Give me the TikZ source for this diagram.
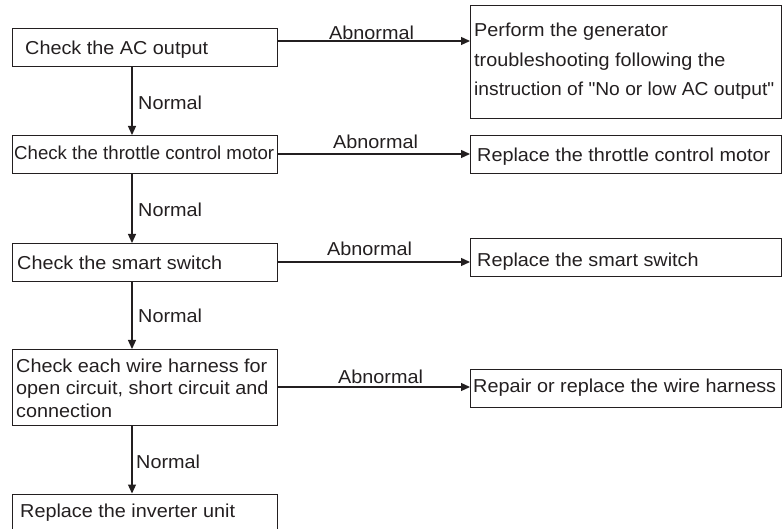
\documentclass[tikz,border=0pt]{standalone}
\usepackage{fontspec}
\usepackage{graphicx}
\newfontfamily\diafont{Liberation Sans}[FakeStretch=1.06]
\usetikzlibrary{arrows.meta}
\definecolor{ink}{HTML}{231F20}
\begin{document}
\begin{tikzpicture}[x=1pt,y=-1pt,
  box/.style={draw=ink,line width=1.3pt,rectangle,inner sep=0pt,anchor=north west},
  txt/.style={inner sep=0pt,anchor=base west,text=ink,font=\diafont\fontsize{18.7}{22}\selectfont},
  arr/.style={draw=ink,line width=1.3pt,-{Triangle[length=9pt,width=8pt]}}]
\clip (0,0) rectangle (782,529);
% left column boxes
\node[box,minimum width=265pt,minimum height=38pt] (b1) at (12,28) {};
\node[box,minimum width=265pt,minimum height=38pt] (b2) at (12,135) {};
\node[box,minimum width=265pt,minimum height=38pt] (b3) at (12,243) {};
\node[box,minimum width=265pt,minimum height=76pt] (b4) at (12,349) {};
\node[box,minimum width=265pt,minimum height=50pt] (b5) at (12,493.5) {};
% right column boxes
\node[box,minimum width=311pt,minimum height=113pt] (r1) at (470,5) {};
\node[box,minimum width=311pt,minimum height=38pt] (r2) at (470,135) {};
\node[box,minimum width=311pt,minimum height=38pt] (r3) at (470,238) {};
\node[box,minimum width=311pt,minimum height=38pt] (r4) at (470,369) {};
% texts
\node[txt] (t1) at (25,54.5) {Check the AC output};
\node[txt] (t2) at (14,160) {\scalebox{0.94}[1]{Check the throttle control motor}};
\node[txt] (t3) at (17,270) {Check the smart switch};
\node[txt] (t4a) at (16,372) {Check each wire harness for};
\node[txt] (t4b) at (16,395) {open circuit, short circuit and};
\node[txt] (t4c) at (16,417) {connection};
\node[txt] (t5) at (20,517) {Replace the inverter unit};
\node[txt] (s1a) at (474,37) {Perform the generator};
\node[txt] (s1b) at (474,67) {troubleshooting following the};
\node[txt] (s1c) at (474,96) {\scalebox{0.97}[1]{instruction of "No or low AC output"}};
\node[txt] (s2) at (477,162) {Replace the throttle control motor};
\node[txt] (s3) at (477,267) {Replace the smart switch};
\node[txt] (s4) at (473,392) {Repair or replace the wire harness};
% labels
\node[txt] (n1) at (138,110) {Normal};
\node[txt] (n2) at (138,217) {Normal};
\node[txt] (n3) at (138,323) {Normal};
\node[txt] (n4) at (136,468) {Normal};
\node[txt] (a1) at (329,39.5) {Abnormal};
\node[txt] (a2) at (333,149) {Abnormal};
\node[txt] (a3) at (327,256) {Abnormal};
\node[txt] (a4) at (338,384) {Abnormal};
% connector guides
\coordinate (vx) at (132,0);
\coordinate (h1) at (0,41);
\coordinate (h2) at (0,154);
\coordinate (h3) at (0,262);
\coordinate (h4) at (0,387);
% vertical arrows
\draw[arr] (b1.south -| vx) -- (b2.north -| vx);
\draw[arr] (b2.south -| vx) -- (b3.north -| vx);
\draw[arr] (b3.south -| vx) -- (b4.north -| vx);
\draw[arr] (b4.south -| vx) -- (b5.north -| vx);
% horizontal arrows
\draw[arr] (b1.east |- h1) -- (r1.west |- h1);
\draw[arr] (b2.east |- h2) -- (r2.west |- h2);
\draw[arr] (b3.east |- h3) -- (r3.west |- h3);
\draw[arr] (b4.east |- h4) -- (r4.west |- h4);
\end{tikzpicture}
\end{document}
